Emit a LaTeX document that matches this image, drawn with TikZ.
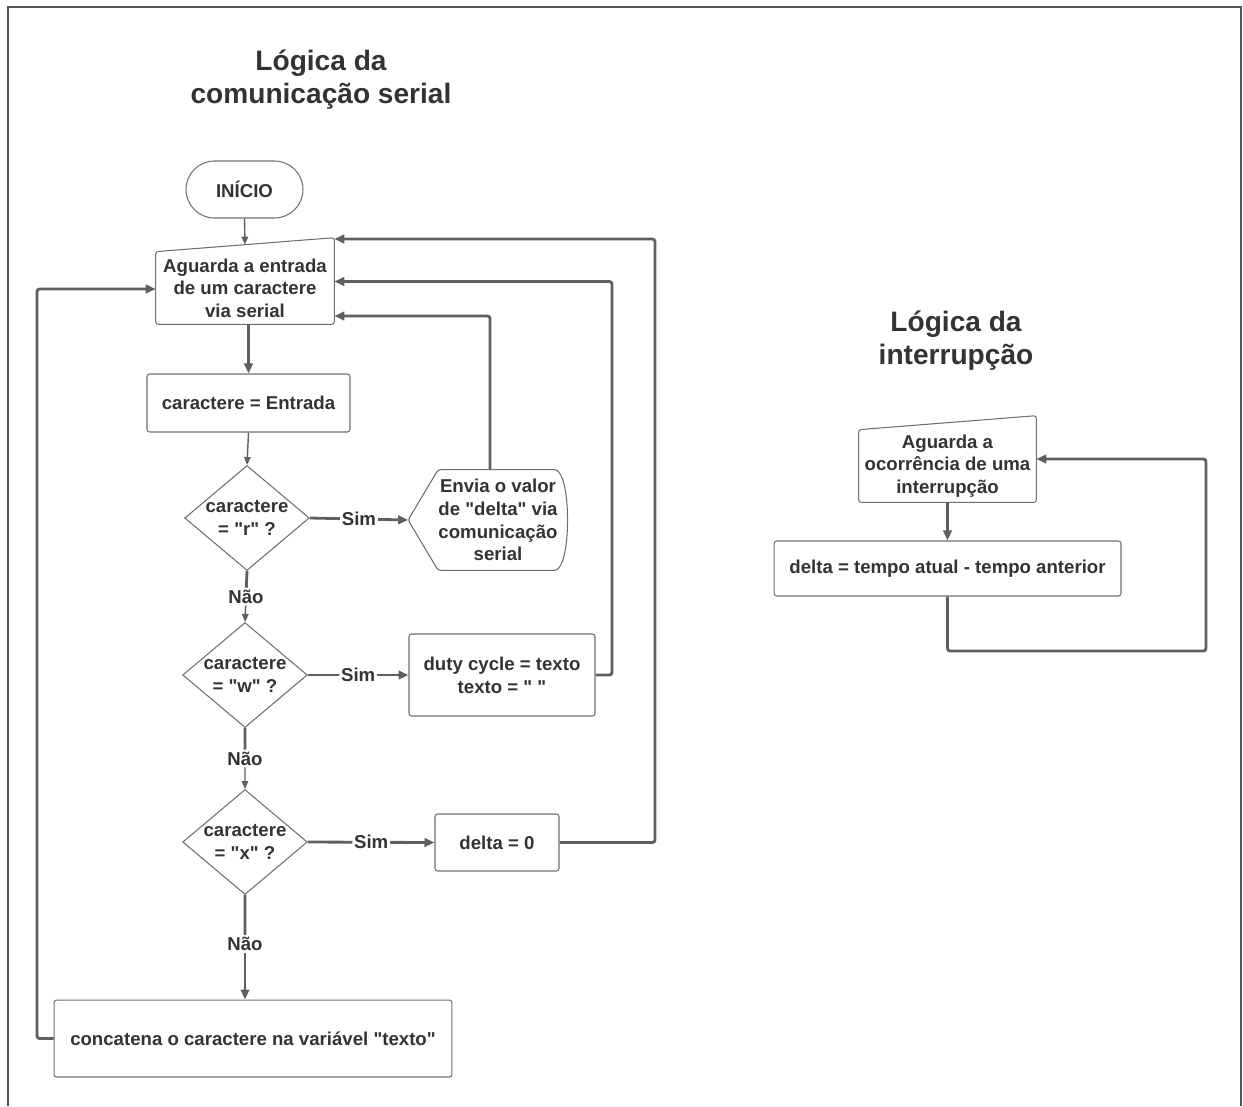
\documentclass[tikz,border=0pt]{standalone}
\usepackage{fontspec}
\defaultfontfeatures[\rmfamily]{}
\setmainfont{Liberation Sans}
\usetikzlibrary{arrows.meta, positioning, shapes, calc}
\definecolor{TextoEscuro}{RGB}{51, 51, 51}
\definecolor{Borda}{RGB}{110, 110, 110}
\definecolor{Linha}{RGB}{95, 95, 95}
\definecolor{Moldura}{RGB}{85, 85, 85}

\begin{document}
\begin{tikzpicture}[x=0.02cm, y=-0.02cm,
    every node/.style={font=\bfseries\fontsize{10.6}{12.9}\selectfont, text=TextoEscuro},
    titulo/.style={font=\bfseries\fontsize{16}{18.7}\selectfont, align=center},
    caixa/.style={draw=Borda, line width=0.6pt, rounded corners=1.5pt, align=center, inner sep=0pt},
    semborda/.style={align=center, inner sep=0pt},
    forma/.style={draw=Borda, line width=0.6pt, rounded corners=1.5pt},
    decisao/.style={diamond, draw=Borda, line width=0.6pt, align=center, inner sep=0pt, shape aspect=1.2, minimum width=2.48cm, minimum height=2.1cm},
    fluxo/.style={draw=Linha, line width=1.6pt, rounded corners=1.5pt, -{Triangle[length=0.2cm, width=0.17cm]}},
    fino/.style={draw=Linha, line width=0.8pt, -{Triangle[length=0.16cm, width=0.13cm]}},
    rotulo/.style={fill=white, inner sep=1pt}]
    \useasboundingbox (0,0) rectangle (1243,1106);
    \draw[draw=Moldura, line width=0.9pt] (8,1106) |- (1241,7) -- (1241,1106);

    % titulos
    \node[titulo] (tit1) at (321,80) {Lógica da\\comunicação serial};
    \node[titulo] (tit2) at (956,341) {Lógica da\\interrupção};

    % comunicacao serial
    \node[caixa, rounded corners=0.57cm, minimum width=2.34cm, minimum height=1.14cm] (inicio) at (244.5,189.5) {INÍCIO};
    \node[semborda, minimum width=3.56cm, minimum height=1.44cm] (espera) at (245,288) {Aguarda a entrada\\de um caractere\\via serial};
    \draw[forma] (espera.north west) -- ([yshift=0.28cm]espera.north east) -- (espera.south east) -- (espera.south west) -- cycle;
    \node[caixa, minimum width=4.06cm, minimum height=1.16cm] (leitura) at (248.5,403) {caractere = Entrada};
    \node[decisao] (testeR) at (247,518) {caractere\\= "r" ?};
    \node[decisao] (testeW) at (245,675) {caractere\\= "w" ?};
    \node[decisao] (testeX) at (245,842) {caractere\\= "x" ?};

    \node[semborda, minimum width=2.32cm, minimum height=2cm] (envia) at (498,520) {Envia o valor\\de "delta" via\\comunicação\\serial};
    \coordinate (enviaPonta) at ([xshift=-0.6cm]envia.west);
    \draw[forma] (enviaPonta) -- (envia.north west) -- ([xshift=-0.12cm]envia.north east)
        .. controls ([xshift=0.28cm]envia.north east) and ([xshift=0.28cm]envia.south east) .. ([xshift=-0.12cm]envia.south east)
        -- (envia.south west) -- cycle;
    \node[caixa, minimum width=3.72cm, minimum height=1.64cm] (duty) at (502,675) {duty cycle = texto\\texto = " "};
    \node[caixa, minimum width=2.48cm, minimum height=1.14cm] (zera) at (497,842.5) {delta = 0};
    \node[caixa, minimum width=7.96cm, minimum height=1.54cm] (concat) at (253,1038.5) {concatena o caractere na variável "texto"};

    % interrupcao
    \node[semborda, minimum width=3.54cm, minimum height=1.44cm] (espera2) at (947.5,466) {Aguarda a\\ocorrência de uma\\interrupção};
    \draw[forma] (espera2.north west) -- ([yshift=0.28cm]espera2.north east) -- (espera2.south east) -- (espera2.south west) -- cycle;
    \node[caixa, minimum width=6.94cm, minimum height=1.1cm] (calcula) at (947.5,568.5) {delta = tempo atual - tempo anterior};

    % pontos de retorno
    \coordinate (voltaX) at (655,239);
    \coordinate (voltaW) at (612,281.5);
    \coordinate (voltaR) at (490,316);
    \coordinate (voltaC) at (37,289);
    \coordinate (voltaI1) at (947.5,651);
    \coordinate (voltaI2) at (1206,459);

    % ligacoes
    \draw[fino] (inicio.south) -- ([yshift=0.14cm]espera.north);
    \draw[fluxo] (espera.south -| leitura.north) -- (leitura.north);
    \draw[fino] (leitura.south) -- (testeR.north);

    \draw[fluxo] (testeR.east) -- node[rotulo] {Sim} (enviaPonta);
    \draw[fluxo] (testeW.east) -- node[rotulo] {Sim} (duty.west);
    \draw[fluxo] (testeX.east) -- node[rotulo] {Sim} (zera.west);

    \node[rotulo] (nao1) at ($(testeR.south)!0.5!(testeW.north)$) {Não};
    \node[rotulo] (nao2) at ($(testeW.south)!0.5!(testeX.north)$) {Não};
    \node[rotulo] (nao3) at ($(testeX.south)!0.47!(testeX.south |- concat.north)$) {Não};
    \draw[fluxo, -] (testeR.south) -- (nao1);
    \draw[fino] (nao1) -- (testeW.north);
    \draw[fluxo, -] (testeW.south) -- (nao2);
    \draw[fino] (nao2) -- (testeX.north);
    \draw[fluxo, -] (testeX.south) -- (nao3);
    \draw[fluxo] (nao3) -- (nao3 |- concat.north);

    \draw[fluxo] ([xshift=-0.16cm]envia.north) |- (espera.east |- voltaR);
    \draw[fluxo] (duty.east) -| (voltaW) -- (espera.east |- voltaW);
    \draw[fluxo] (zera.east) -| (voltaX) -- (espera.east |- voltaX);
    \draw[fluxo] (concat.west) -| (voltaC) -- (espera.west |- voltaC);

    \draw[fluxo] (espera2.south) -- (calcula.north);
    \draw[fluxo] (calcula.south) -- (voltaI1) -| (voltaI2) -- (espera2.east |- voltaI2);
\end{tikzpicture}
\end{document}
